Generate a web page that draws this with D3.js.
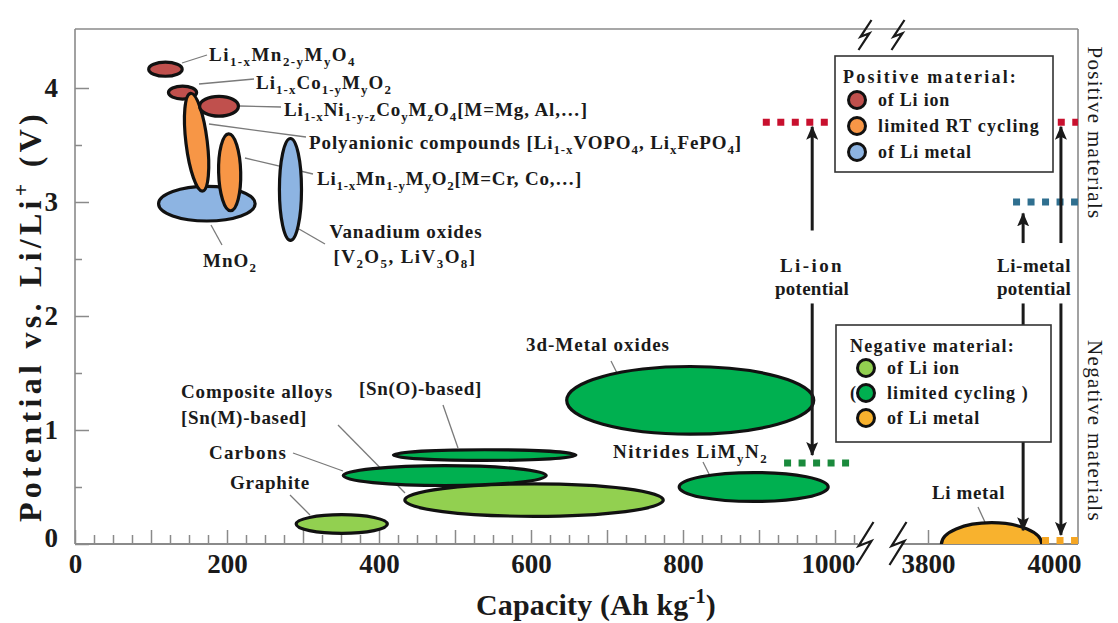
<!DOCTYPE html>
<html>
<head>
<meta charset="utf-8">
<script src="https://cdn.jsdelivr.net/npm/d3@7"></script>
<style>
  body { margin: 0; background: #fff; }
  svg { display: block; font-family: "Liberation Serif", "Times New Roman", serif; }
</style>
</head>
<body>
<script>
// ---- data: capacity (Ah/kg) and potential (V vs Li/Li+) ----
const yTickValues = [0, 1, 2, 3, 4];
const xTickValuesLeft = [0, 200, 400, 600, 800, 1000];
const xTickValuesRight = [3800, 4000];

// positive electrode materials (draw order)
const positiveMaterials = [
  { name: "MnO2",        kind: "posLiMetal", cap: [108, 239], pot: [2.82, 3.15] },
  { name: "LiMn2O4",     kind: "posLiIon",   cap: [95, 143],  pot: [4.09, 4.24] },
  { name: "LiCoO2",      kind: "posLiIon",   cap: [121, 162], pot: [3.89, 4.03] },
  { name: "Polyanionic", kind: "posLimited", cap: [144, 176], pot: [3.08, 3.97] },
  { name: "LiMnO2",      kind: "posLimited", cap: [187, 220], pot: [2.91, 3.61] },
  { name: "LiNiCoO4",    kind: "posLiIon",   cap: [162, 217], pot: [3.74, 3.94] },
  { name: "Vanadium",    kind: "posLiMetal", cap: [267, 300], pot: [2.65, 3.57] }
];

// negative electrode materials (draw order)
const negativeMaterials = [
  { name: "Graphite",  kind: "negLiIon",    cap: [289, 413],   pot: [0.08, 0.27] },
  { name: "Carbons",   kind: "negLiIon",    cap: [432, 776],   pot: [0.23, 0.54] },
  { name: "Composite", kind: "negLimited",  cap: [351, 622],   pot: [0.50, 0.70] },
  { name: "SnO",       kind: "negLimited",  cap: [417, 661],   pot: [0.72, 0.84] },
  { name: "3dMetal",   kind: "negLimited",  cap: [645, 974],   pot: [0.95, 1.57] },
  { name: "Nitrides",  kind: "negLimited",  cap: [793, 993],   pot: [0.36, 0.64] },
  { name: "LiMetal",   kind: "negLiMetal",  cap: [3819, 3983], pot: [-0.20, 0.20] }
];

// reference potentials (dotted levels)
const potentialLevels = [
  { kind: "posLiIon",   pot: 3.70, cap: [905, 993] },
  { kind: "negLimited", pot: 0.71, cap: [933, 1020] },
  { kind: "posLiIon",   pot: 3.70, cap: [4006, 4038] },
  { kind: "posLiMetal", pot: 3.00, cap: [3935, 4038] },
  { kind: "negLiMetal", pot: 0.03, cap: [3981, 4038] }
];

// potential arrows
const arrows = [
  { cap: 970,  from: 2.75, to: 3.66 },
  { cap: 970,  from: 2.11, to: 0.78 },
  { cap: 3951, from: 2.64, to: 2.90 },
  { cap: 3951, from: 2.11, to: 0.12 },
  { cap: 4011, from: 2.64, to: 3.66 },
  { cap: 4011, from: 2.11, to: 0.08 }
];

const positiveLegend = ["of Li ion", "limited RT cycling", "of Li metal"];
const positiveLegendKinds = ["posLiIon", "posLimited", "posLiMetal"];
const negativeLegend = ["of Li ion", "limited  cycling )", "of Li metal"];
const negativeLegendKinds = ["negLiIon", "negLimited", "negLiMetal"];

// ---- styles / layout ----
const fills = {
  posLiIon: "#c0504d", posLimited: "#f79646", posLiMetal: "#8db4e2",
  negLiIon: "#92d050", negLimited: "#00b050", negLiMetal: "#f8b22e"
};
const dashColors = {
  posLiIon: "#c8102e", posLiMetal: "#2f6f8f", negLimited: "#1a8a3c", negLiMetal: "#f5a623"
};
const tilt = { Polyanionic: -7, LiMnO2: -1.5 };

const W = 1118, H = 623;
const frame = { left: 75, top: 29, right: 1078, bottom: 544 };

const xL = d3.scaleLinear().domain([0, 1000]).range([75, 835]);
const xR = d3.scaleLinear().domain([3800, 4000]).range([928, 1054]);
const y = d3.scaleLinear().domain([0, 4]).range([544, 88]);
const xs = c => c >= 3000 ? xR(c) : xL(c);

const svg = d3.select("body").append("svg")
    .attr("width", W)
    .attr("height", H);

svg.append("defs").append("clipPath").attr("id", "plotClip")
  .append("rect").attr("x", 0).attr("y", 0).attr("width", W).attr("height", frame.bottom);

svg.select("defs").append("marker")
    .attr("id", "head")
    .attr("viewBox", "0 0 14 12")
    .attr("refX", 13).attr("refY", 6)
    .attr("markerWidth", 14).attr("markerHeight", 12)
    .attr("markerUnits", "userSpaceOnUse")
    .attr("orient", "auto")
  .append("path")
    .attr("d", "M0,0 L14,6 L0,12 L3,6 Z")
    .attr("fill", "#1a1a1a");

// rich text: _{sub} and ^{sup}
function rich(t, s, size) {
  const parts = s.split(/(_\{[^}]*\}|\^\{[^}]*\})/).filter(p => p.length);
  let shift = 0;
  parts.forEach(p => {
    const ts = t.append("tspan");
    let off = 0;
    if (p[0] === "_" || p[0] === "^") {
      ts.text(p.slice(2, -1)).attr("font-size", size * 0.68);
      off = p[0] === "_" ? size * 0.28 : -size * 0.4;
    } else {
      ts.text(p);
    }
    ts.attr("dy", (off - shift).toFixed(2));
    shift = off;
  });
}

function fit(t, w) {
  const n = t.text().length;
  const len = t.node().getComputedTextLength();
  if (n > 1) t.attr("letter-spacing", ((w - len) / n).toFixed(2));
}

function addText(parent, s, o) {
  const size = o.size || 19;
  const t = parent.append("text")
      .attr("x", o.x).attr("y", o.y)
      .attr("font-size", size)
      .attr("font-weight", o.weight || "bold")
      .attr("fill", "#1a1a1a")
      .attr("text-anchor", o.a || "start");
  if (o.rotate) t.attr("transform", `rotate(${o.rotate},${o.x},${o.y})`);
  rich(t, s, size);
  if (o.w) fit(t, o.w);
  return t;
}

// ---- frame and axes ----
const gFrame = svg.append("g").attr("stroke", "#8a8a8a").attr("stroke-width", 1.6).attr("fill", "none");
gFrame.append("line").attr("x1", frame.left).attr("x2", frame.right).attr("y1", frame.top).attr("y2", frame.top);
gFrame.append("line").attr("x1", frame.left).attr("x2", frame.left).attr("y1", frame.top).attr("y2", frame.bottom);
gFrame.append("line").attr("x1", frame.right).attr("x2", frame.right).attr("y1", frame.top).attr("y2", frame.bottom);
gFrame.append("line").attr("x1", frame.left).attr("x2", 858).attr("y1", frame.bottom).attr("y2", frame.bottom).attr("stroke-width", 2);
gFrame.append("line").attr("x1", 902).attr("x2", frame.right).attr("y1", frame.bottom).attr("y2", frame.bottom).attr("stroke-width", 2);

const tickFont = g => g.selectAll("text")
    .attr("font-size", 27).attr("font-weight", "bold")
    .attr("fill", "#1a1a1a")
    .attr("font-family", "Liberation Serif, serif");

const yAxis = svg.append("g")
    .attr("transform", `translate(${frame.left},0)`)
    .call(d3.axisLeft(y)
      .tickValues(d3.range(0, 4.01, 0.5))
      .tickSize(-7).tickPadding(17)
      .tickFormat(d => yTickValues.includes(d) ? d : ""));
yAxis.select(".domain").remove();
yAxis.selectAll(".tick line").attr("stroke", "#8a8a8a").attr("stroke-width", 1.5)
    .filter(d => Number.isInteger(d)).attr("x2", 14);
yAxis.call(tickFont);
yAxis.selectAll(".tick text").filter(d => d === 0).attr("dy", "0.08em");

const xAxisL = svg.append("g")
    .attr("transform", `translate(0,${frame.bottom})`)
    .call(d3.axisBottom(xL)
      .tickValues(d3.range(0, 1026, 25))
      .tickSize(-9).tickPadding(10)
      .tickFormat(d => xTickValuesLeft.includes(d) ? d : ""));
xAxisL.select(".domain").remove();
xAxisL.selectAll(".tick line").attr("stroke", "#8a8a8a").attr("stroke-width", 1.5)
    .filter(d => d % 100 === 0).attr("y2", -14);
xAxisL.call(tickFont);
xAxisL.selectAll(".tick text").filter(d => d === 1000).attr("dx", -7);

const xAxisR = svg.append("g")
    .attr("transform", `translate(0,${frame.bottom})`)
    .call(d3.axisBottom(xR)
      .tickValues(xTickValuesRight)
      .tickSize(-14).tickPadding(10)
      .tickFormat(d3.format("d")));
xAxisR.select(".domain").remove();
xAxisR.selectAll(".tick line").attr("stroke", "#8a8a8a").attr("stroke-width", 1.5)
    .filter(d => d === 4000).remove();
xAxisR.call(tickFont);

// axis breaks
function bolt(cx, y0, h, w) {
  return `M${cx + w / 2},${y0} L${cx - w / 2 + 2},${y0 + h * 0.56} L${cx + w / 2 - 2},${y0 + h * 0.44} L${cx - w / 2},${y0 + h}`;
}
const gBreak = svg.append("g").attr("fill", "none").attr("stroke", "#1a1a1a").attr("stroke-width", 2.2);
[865, 898].forEach(cx => {
  gBreak.append("path").attr("d", bolt(cx, 20, 30, 13));
  gBreak.append("path").attr("d", bolt(cx, 522, 43, 17));
});

// axis titles
addText(svg, "Potential vs. Li/Li^{+} (V)", { x: 41, y: 316, size: 32, a: "middle", rotate: -90, w: 412 });
addText(svg, "Capacity (Ah kg^{-1})", { x: 596, y: 615, size: 30, a: "middle", w: 240 });
addText(svg, "Positive materials", { x: 1088, y: 133, size: 21, weight: "normal", a: "middle", rotate: 90, w: 173 });
addText(svg, "Negative materials", { x: 1088, y: 431, size: 21, weight: "normal", a: "middle", rotate: 90, w: 182 });

// ---- leader lines (under the ellipses) ----
const leaderLayout = [
  [182, 63, 207, 55], [199, 84, 254, 79], [239, 106, 281, 107], [209, 124, 306, 137],
  [245, 158, 313, 174], [211, 225, 222, 245], [299, 229, 325, 244],
  [443, 405, 458, 448], [338, 425, 405, 493], [293, 453, 343, 471], [290, 495, 310, 515],
  [611, 361, 619, 377], [703, 462, 710, 476], [978, 507, 990, 533]
];
svg.append("g").selectAll("line").data(leaderLayout).join("line")
    .attr("x1", d => d[0]).attr("y1", d => d[1])
    .attr("x2", d => d[2]).attr("y2", d => d[3])
    .attr("stroke", "#7a7a7a").attr("stroke-width", 1.3);

// ---- ellipses ----
function drawEllipses(data) {
  svg.append("g").attr("clip-path", "url(#plotClip)")
    .selectAll("ellipse").data(data).join("ellipse")
      .attr("cx", d => (xs(d.cap[0]) + xs(d.cap[1])) / 2)
      .attr("cy", d => (y(d.pot[0]) + y(d.pot[1])) / 2)
      .attr("rx", d => Math.abs(xs(d.cap[1]) - xs(d.cap[0])) / 2 - 1.5)
      .attr("ry", d => Math.abs(y(d.pot[1]) - y(d.pot[0])) / 2 - 1.5)
      .attr("transform", d => {
        const a = tilt[d.name] || 0;
        const cx = (xs(d.cap[0]) + xs(d.cap[1])) / 2, cy = (y(d.pot[0]) + y(d.pot[1])) / 2;
        return `rotate(${a},${cx},${cy})`;
      })
      .attr("fill", d => fills[d.kind])
      .attr("stroke", "#111")
      .attr("stroke-width", 3.2);
}
drawEllipses(negativeMaterials);
drawEllipses(positiveMaterials);

// ---- dotted potential levels ----
svg.append("g").selectAll("line").data(potentialLevels).join("line")
    .attr("x1", d => xs(d.cap[0])).attr("x2", d => xs(d.cap[1]))
    .attr("y1", d => y(d.pot)).attr("y2", d => y(d.pot))
    .attr("stroke", d => dashColors[d.kind])
    .attr("stroke-width", 7)
    .attr("stroke-dasharray", "7 7.5");

// ---- arrows ----
svg.append("g").selectAll("line").data(arrows).join("line")
    .attr("x1", d => xs(d.cap)).attr("x2", d => xs(d.cap))
    .attr("y1", d => y(d.from)).attr("y2", d => y(d.to))
    .attr("stroke", "#1a1a1a").attr("stroke-width", 3)
    .attr("marker-end", "url(#head)");

// ---- annotations ----
const labelLayout = [
  { s: "Li_{1-x}Mn_{2-y}M_{y}O_{4}", x: 209, y: 61, w: 147 },
  { s: "Li_{1-x}Co_{1-y}M_{y}O_{2}", x: 256, y: 89, w: 136 },
  { s: "Li_{1-x}Ni_{1-y-z}Co_{y}M_{z}O_{4}[M=Mg, Al,…]", x: 284, y: 116, w: 304 },
  { s: "Polyanionic compounds [Li_{1-x}VOPO_{4}, Li_{x}FePO_{4}]", x: 309, y: 149, w: 433 },
  { s: "Li_{1-x}Mn_{1-y}M_{y}O_{2}[M=Cr, Co,…]", x: 317, y: 185, w: 265 },
  { s: "Vanadium oxides", x: 406, y: 238, w: 153, a: "middle" },
  { s: "[V_{2}O_{5}, LiV_{3}O_{8}]", x: 405, y: 263, w: 143, a: "middle" },
  { s: "MnO_{2}", x: 230, y: 267, w: 54, a: "middle" },
  { s: "Composite alloys", x: 181, y: 398, w: 152 },
  { s: "[Sn(M)-based]", x: 181, y: 424, w: 126 },
  { s: "[Sn(O)-based]", x: 359, y: 395, w: 123 },
  { s: "Carbons", x: 209, y: 459, w: 78 },
  { s: "Graphite", x: 230, y: 489, w: 80 },
  { s: "3d-Metal oxides", x: 526, y: 351, w: 144 },
  { s: "Nitrides LiM_{y}N_{2}", x: 613, y: 458, w: 155 },
  { s: "Li metal", x: 932, y: 499, w: 73 },
  { s: "Li-ion", x: 812, y: 272, w: 64, a: "middle" },
  { s: "potential", x: 812, y: 295, w: 74, a: "middle" },
  { s: "Li-metal", x: 1034, y: 272, w: 74, a: "middle" },
  { s: "potential", x: 1034, y: 295, w: 74, a: "middle" }
];
labelLayout.forEach(l => addText(svg, l.s, l));

// ---- legends ----
function legend(box, title, items, kinds, opt) {
  const g = svg.append("g");
  g.append("rect").attr("x", box[0]).attr("y", box[1]).attr("width", box[2]).attr("height", box[3])
    .attr("fill", "#fff").attr("stroke", "#333").attr("stroke-width", 1.6);
  addText(g, title, { x: opt.titleX, y: box[1] + 27, w: opt.titleW, size: 18 });
  items.forEach((s, i) => {
    const cy = opt.firstY + i * opt.step;
    g.append("circle").attr("cx", opt.cx).attr("cy", cy).attr("r", 8.5)
      .attr("fill", fills[kinds[i]]).attr("stroke", "#111").attr("stroke-width", 3);
    addText(g, s, { x: opt.cx + 21, y: cy + 6, w: opt.itemW[i], size: 18 });
  });
  return g;
}
legend([835, 56, 218, 116], "Positive material:", positiveLegend, positiveLegendKinds,
  { titleX: 843, titleW: 175, cx: 857, firstY: 100, step: 26, itemW: [72, 162, 94] });
const negLegend = legend([836, 325, 215, 117], "Negative material:", negativeLegend, negativeLegendKinds,
  { titleX: 850, titleW: 165, cx: 866, firstY: 368, step: 25, itemW: [73, 143, 93] });
addText(negLegend, "(", { x: 850, y: 399, size: 18 });
</script>
</body>
</html>
